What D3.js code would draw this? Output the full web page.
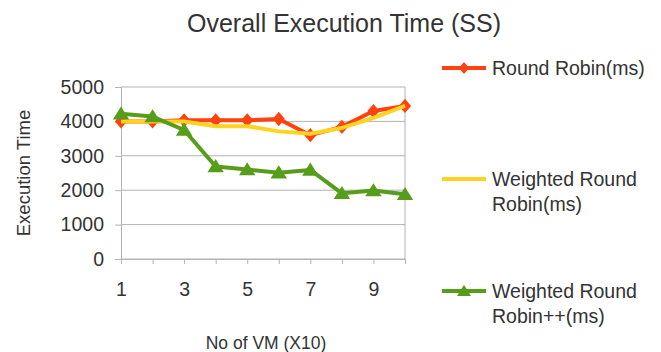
<!DOCTYPE html>
<html>
<head>
<meta charset="utf-8">
<script src="https://cdn.jsdelivr.net/npm/d3@7"></script>
<style>
  body { margin: 0; background: #fff; }
  svg { display: block; font-family: "Liberation Sans", Arial, sans-serif; }
</style>
</head>
<body>
<svg id="chart"></svg>
<script>
// chart data
const vms = [1, 2, 3, 4, 5, 6, 7, 8, 9, 10];
const xTickLabels = [1, 3, 5, 7, 9];
const yTicks = [0, 1000, 2000, 3000, 4000, 5000];
const roundRobin = [4000, 4000, 4030, 4030, 4030, 4070, 3600, 3840, 4300, 4450];
const weightedRR = [4000, 4000, 4000, 3860, 3860, 3710, 3640, 3810, 4100, 4450];
const weightedRRpp = [4220, 4140, 3750, 2690, 2600, 2510, 2590, 1910, 1990, 1880];

const seriesNames = ["Round Robin(ms)", "Weighted Round Robin(ms)", "Weighted Round Robin++(ms)"];

const width = 661, height = 352;
const svg = d3.select("#chart").attr("width", width).attr("height", height);

const plot = { left: 121, right: 405, top: 87, bottom: 259 };
const textColor = "#333333";
const gridColor = "#b3b3b3";

const x = d3.scalePoint().domain(vms).range([plot.left, plot.right]);
const y = d3.scaleLinear().domain([0, 5000]).range([plot.bottom, plot.top]);

// gridlines
svg.append("g")
    .selectAll("line")
    .data(yTicks)
    .join("line")
    .attr("x1", plot.left)
    .attr("x2", plot.right)
    .attr("y1", d => y(d))
    .attr("y2", d => y(d))
    .attr("stroke", gridColor)
    .attr("stroke-width", 1);

// right border of plot area
svg.append("line")
    .attr("x1", plot.right).attr("x2", plot.right)
    .attr("y1", plot.top).attr("y2", plot.bottom)
    .attr("stroke", gridColor);

// y axis
const yAxis = svg.append("g")
    .attr("transform", `translate(${plot.left},0)`)
    .call(d3.axisLeft(y).tickValues(yTicks).tickFormat(d3.format("d")).tickSize(6).tickPadding(11));
yAxis.select(".domain").attr("stroke", gridColor);
yAxis.selectAll(".tick line").attr("stroke", gridColor);
yAxis.selectAll(".tick text")
    .attr("fill", textColor)
    .style("font-size", "19.5px");

// x axis
const xAxis = svg.append("g")
    .attr("transform", `translate(0,${plot.bottom})`)
    .call(d3.axisBottom(x).tickSize(5).tickPadding(18)
        .tickFormat(d => xTickLabels.includes(d) ? d : ""));
xAxis.select(".domain").attr("stroke", gridColor);
xAxis.selectAll(".tick line").attr("stroke", gridColor);
xAxis.selectAll(".tick text")
    .attr("fill", textColor)
    .style("font-size", "19.5px");

// title & axis titles
svg.append("text")
    .attr("x", 344).attr("y", 32)
    .attr("text-anchor", "middle")
    .attr("fill", textColor)
    .style("font-size", "25px")
    .text("Overall Execution Time (SS)");

svg.append("text")
    .attr("transform", "translate(30,173) rotate(-90)")
    .attr("text-anchor", "middle")
    .attr("fill", textColor)
    .style("font-size", "18.5px")
    .text("Execution Time");

svg.append("text")
    .attr("x", 266).attr("y", 349)
    .attr("text-anchor", "middle")
    .attr("fill", textColor)
    .style("font-size", "17.5px")
    .text("No of VM (X10)");

// markers
const diamond = (s) => `M0,${-s}L${s * 0.85},0L0,${s}L${-s * 0.85},0Z`;
const triangle = (s) => `M0,${-s * 0.9}L${s},${s * 0.7}L${-s},${s * 0.7}Z`;

const series = [
    { name: seriesNames[0], values: roundRobin, color: "#ff420e", marker: diamond(7.2) },
    { name: seriesNames[1], values: weightedRR, color: "#ffd320", marker: null },
    { name: seriesNames[2], values: weightedRRpp, color: "#579d1c", marker: triangle(8.2) }
];

const line = d3.line()
    .x((d, i) => x(vms[i]))
    .y(d => y(d));

series.forEach(s => {
    const g = svg.append("g");
    g.append("path")
        .datum(s.values)
        .attr("d", line)
        .attr("fill", "none")
        .attr("stroke", s.color)
        .attr("stroke-width", 4)
        .attr("stroke-linejoin", "round");
    if (s.marker) {
        g.selectAll("path.mark")
            .data(s.values)
            .join("path")
            .attr("class", "mark")
            .attr("d", s.marker)
            .attr("transform", (d, i) => `translate(${x(vms[i])},${y(d)})`)
            .attr("fill", s.color);
    }
});

// legend
const legendItems = [
    { lines: ["Round Robin(ms)"], y: 68, s: series[0] },
    { lines: ["Weighted Round", "Robin(ms)"], y: 179, s: series[1] },
    { lines: ["Weighted Round", "Robin++(ms)"], y: 291, s: series[2] }
];

const legend = svg.append("g");
legendItems.forEach(item => {
    const g = legend.append("g").attr("transform", `translate(0,${item.y})`);
    g.append("line")
        .attr("x1", 442).attr("x2", 486)
        .attr("stroke", item.s.color)
        .attr("stroke-width", 4);
    if (item.s.marker) {
        g.append("path")
            .attr("d", item.s === series[0] ? diamond(6) : triangle(7))
            .attr("transform", "translate(464,0)")
            .attr("fill", item.s.color);
    }
    g.append("text")
        .attr("x", 492)
        .attr("y", 7)
        .attr("fill", textColor)
        .style("font-size", "19.5px")
        .selectAll("tspan")
        .data(item.lines)
        .join("tspan")
        .attr("x", 492)
        .attr("dy", (d, i) => i === 0 ? 0 : 25)
        .text(d => d);
});
</script>
</body>
</html>
